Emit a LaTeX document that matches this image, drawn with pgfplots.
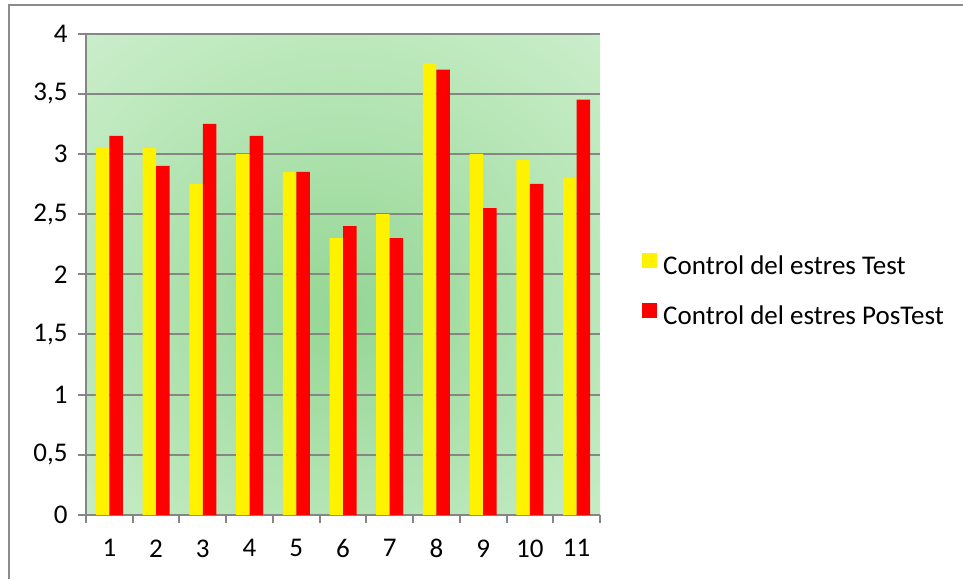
\documentclass[border=0pt]{standalone}
\usepackage{fontspec}
\setmainfont{Carlito}
\usepackage{pgfplots}
\pgfplotsset{compat=1.18}

\definecolor{bginner}{RGB}{148,214,148}
\definecolor{bgmid}{RGB}{190,233,190}
\definecolor{bgouter}{RGB}{238,249,238}
\definecolor{gridgray}{RGB}{134,134,134}
\definecolor{framegray}{RGB}{140,140,140}
\pgfdeclareradialshading{bgshade}{\pgfpoint{0bp}{-4bp}}{color(0bp)=(bginner); color(28bp)=(bgmid); color(62bp)=(bgouter); color(80bp)=(bgouter)}

\pgfplotstableread{
x  test  postest
1  3.05  3.15
2  3.05  2.90
3  2.75  3.25
4  3.00  3.15
5  2.85  2.85
6  2.30  2.40
7  2.50  2.30
8  3.75  3.70
9  3.00  2.55
10 2.95  2.75
11 2.80  3.45
}\estres

\newcommand{\lbl}{\fontsize{27}{32}\selectfont}

\begin{document}
\begin{tikzpicture}
\useasboundingbox (0pt,0pt) rectangle (963pt,579pt);
\draw[framegray, line width=1.5pt] (9pt,0pt) -- (9pt,574pt) -- (963pt,574pt);
\begin{axis}[
    at={(86pt,64pt)}, anchor=south west,
    width=514pt, height=481.5pt, scale only axis,
    ybar=0pt, bar width=13.5pt,
    xmin=0.5, xmax=11.5, ymin=0, ymax=4,
    enlargelimits=false,
    axis x line*=bottom, axis y line*=left,
    axis line style={gridgray, line width=2pt},
    xtick={0.5,1.5,...,11.5},
    x tick label as interval,
    xticklabels={1,2,3,4,5,6,7,8,9,10,11},
    ytick={0,0.5,...,4},
    /pgf/number format/use comma,
    /pgf/number format/assume math mode=true,
    tick align=outside, major tick length=8pt,
    tick style={gridgray, line width=2pt},
    ymajorgrids, grid style={gridgray, line width=2pt},
    tick label style={font=\lbl, text=black},
    yticklabel shift=7pt,
    xticklabel style={yshift=-13pt},
    axis background/.style={shade, shading=bgshade},
    legend style={at={(1.0817,0.464)}, anchor=west, draw=none, fill=none,
        inner sep=0pt, row sep=23pt, column sep=6pt, font=\lbl,
        nodes={text height=18pt, text depth=6pt, inner sep=0pt, outer sep=0pt}},
    legend cell align=left,
    legend image code/.code={\fill[#1] (0pt,0.5pt) rectangle (15pt,15.5pt);},
]
\addplot[fill=yellow, draw=none] table[x=x, y=test] {\estres};
\addplot[fill=red, draw=none] table[x=x, y=postest] {\estres};
\legend{Control del estres Test, Control del estres PosTest}
\end{axis}
\end{tikzpicture}
\end{document}
